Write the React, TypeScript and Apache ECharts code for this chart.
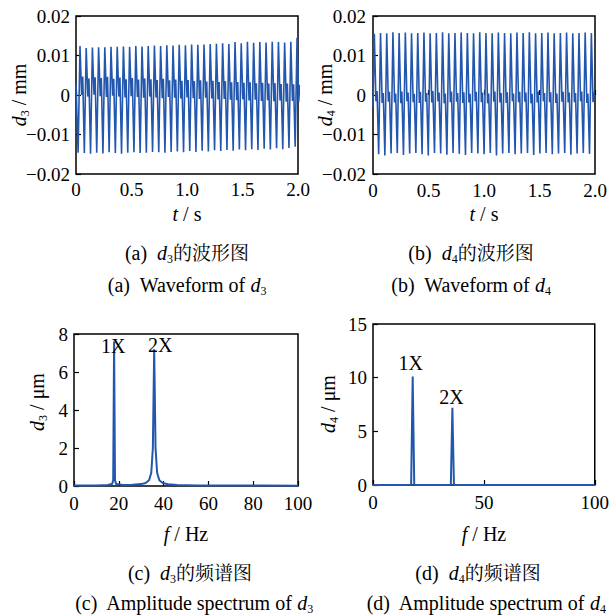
import React, { useEffect, useRef } from "react";
import * as echarts from "echarts";

// ---------- data ----------
const waveFreqHz = 17.9; // rotating frequency (1X)
const waveShape = [-0.3, 0, 0.26, 0.44]; // phase of trough, peak, local min, local max within a period
const d3FirstPeak = 0.036;
const d3Start = 0.003;
const d3Peak = [0.0124, 0.0119, 0.012, 0.0121, 0.0121, 0.0122, 0.0122, 0.0123, 0.0122, 0.0124, 0.0123, 0.0124, 0.0125, 0.0124, 0.0126, 0.0125, 0.0127, 0.0126, 0.0128, 0.0127, 0.0128, 0.0129, 0.013, 0.0131, 0.0129, 0.0134, 0.0131, 0.0135, 0.0132, 0.0134, 0.0133, 0.0135, 0.0134, 0.0133, 0.0135, 0.0145];
const d3Trough = [-0.0146, -0.0147, -0.0149, -0.0146, -0.0148, -0.0145, -0.0147, -0.0149, -0.0146, -0.0145, -0.0147, -0.0146, -0.0144, -0.0145, -0.0146, -0.0144, -0.0143, -0.0145, -0.0142, -0.0144, -0.0141, -0.0143, -0.014, -0.0142, -0.0139, -0.0141, -0.0138, -0.014, -0.0137, -0.0139, -0.0136, -0.0138, -0.0135, -0.0137, -0.0134, -0.0131];
const d3MidLo = [0.0, -0.0004, 0.0001, -0.0003, -0.0005, -0.0002, -0.0004, -0.0006, -0.0003, -0.0005, -0.0007, -0.0004, -0.0006, -0.0008, -0.0005, -0.0007, -0.0009, -0.0006, -0.0008, -0.001, -0.0007, -0.0009, -0.0011, -0.001, -0.0012, -0.0013, -0.0011, -0.0014, -0.0012, -0.0015, -0.0013, -0.0016, -0.0014, -0.0017, -0.0015, -0.0018];
const d3MidHi = [0.0047, 0.0042, 0.0045, 0.0043, 0.0046, 0.0041, 0.0044, 0.004, 0.0043, 0.0039, 0.0042, 0.004, 0.0038, 0.0041, 0.0037, 0.0039, 0.0036, 0.0038, 0.0035, 0.0037, 0.0034, 0.0036, 0.0033, 0.0035, 0.0032, 0.0033, 0.0031, 0.0032, 0.003, 0.0031, 0.0029, 0.003, 0.0028, 0.0029, 0.0027, 0.0026];

const d4FirstPeak = 0.012;
const d4Start = -0.003;
const d4Peak = [0.0155, 0.0157, 0.0156, 0.0159, 0.0157, 0.0158, 0.0156, 0.0157, 0.0158, 0.0156, 0.0157, 0.0159, 0.0156, 0.0157, 0.0158, 0.0157, 0.0156, 0.0159, 0.0157, 0.0156, 0.0158, 0.0157, 0.0156, 0.0158, 0.0157, 0.0159, 0.0156, 0.0157, 0.0158, 0.0156, 0.0157, 0.0158, 0.0156, 0.0157, 0.0158, 0.0157];
const d4Trough = [-0.0147, -0.015, -0.0153, -0.0148, -0.0147, -0.0152, -0.0148, -0.0147, -0.015, -0.0153, -0.0147, -0.0148, -0.0151, -0.0147, -0.0149, -0.0152, -0.0147, -0.0148, -0.015, -0.0147, -0.0153, -0.0148, -0.0147, -0.015, -0.0148, -0.0147, -0.0152, -0.0148, -0.0147, -0.015, -0.0148, -0.0147, -0.0151, -0.0148, -0.0147, -0.0149];
const d4MidLo = [-0.0016, -0.002, -0.0017, -0.0019, -0.0021, -0.0016, -0.0018, -0.002, -0.0017, -0.0019, -0.0016, -0.0021, -0.0018, -0.0017, -0.002, -0.0019, -0.0016, -0.0018, -0.0021, -0.0017, -0.0019, -0.002, -0.0016, -0.0018, -0.0017, -0.0021, -0.0019, -0.0016, -0.0018, -0.002, -0.0017, -0.0019, -0.0018, -0.0016, -0.002, -0.0018];
const d4MidHi = [0.001, 0.0005, 0.0008, 0.0004, 0.0009, 0.0006, 0.0003, 0.0008, 0.0005, 0.001, 0.0006, 0.0004, 0.0009, 0.0005, 0.0007, 0.0003, 0.0008, 0.0006, 0.0004, 0.0009, 0.0005, 0.0007, 0.0004, 0.0008, 0.0006, 0.0003, 0.0009, 0.0005, 0.0007, 0.0004, 0.0008, 0.0006, 0.0005, 0.0009, 0.0004, 0.0007];

const specFreq3 = [0, 5, 10, 15, 17, 17.5, 17.9, 18.3, 18.8, 22, 26, 30, 32, 33.5, 34.5, 35.2, 35.8, 36.4, 37.1, 38.1, 39.6, 42, 46, 55, 70, 85, 100];
const specAmp3 = [0.02, 0.03, 0.03, 0.05, 0.1, 0.3, 7.6, 0.3, 0.1, 0.05, 0.06, 0.1, 0.16, 0.3, 0.7, 2.0, 7.2, 2.0, 0.7, 0.3, 0.16, 0.09, 0.05, 0.03, 0.02, 0.02, 0.01];
const specFreq4 = [0, 17.2, 17.9, 18.6, 35.1, 35.8, 36.5, 100];
const specAmp4 = [0, 0, 10.1, 0, 0, 7.2, 0, 0];
const peakNames = ["1X", "2X"];
const peakFreq = [17.9, 35.8];
const peakAmp3 = [7.6, 7.2];
const peakAmp4 = [10.1, 7.2];

const waveTicksX = { min: 0, max: 2, interval: 0.5 };
const waveTicksY = { min: -0.02, max: 0.02, interval: 0.01 };

// ---------- helpers ----------
function buildWave(peaks: number[], troughs: number[], lo: number[], hi: number[], first: number, start: number) {
  const T = 1 / waveFreqHz;
  const pts: number[][] = [[0, start]];
  for (let k = 0; k < peaks.length; k++) {
    const tp = first + k * T;
    const vals = [troughs[k], peaks[k], lo[k], hi[k]];
    for (let j = 0; j < 4; j++) {
      const t = tp + waveShape[j] * T;
      if (t > 0) pts.push([t, vals[j]]);
    }
  }
  return pts;
}

const SERIF = "'Liberation Serif', 'Times New Roman', serif";
const CJK = "'Liberation Serif', 'Noto Serif CJK SC', 'Noto Sans CJK SC', serif";
const BLUE = "#2357ae";

const rich = {
  i: { fontStyle: "italic", fontFamily: SERIF, fontSize: 20, lineHeight: 24, color: "#000" },
  s: { fontFamily: SERIF, fontSize: 12, lineHeight: 10, verticalAlign: "bottom", color: "#000" },
  n: { fontFamily: SERIF, fontSize: 20, lineHeight: 24, color: "#000" },
  c: { fontFamily: CJK, fontSize: 19, lineHeight: 24, color: "#000" },
};

function txt(x: number, y: number, text: string, rot = 0) {
  return {
    type: "text",
    x,
    y,
    rotation: rot,
    silent: true,
    style: {
      text,
      rich,
      fontFamily: SERIF,
      fontSize: 20,
      fill: "#000",
      align: "center",
      verticalAlign: "middle",
    },
  };
}

const minus = (s: string) => s.replace("-", "\u2212");

function xAxisBase(gridIndex: number, min: number, max: number, interval: number, fmt: any, margin = 6) {
  return {
    type: "value",
    gridIndex,
    min,
    max,
    interval,
    axisLine: { show: false },
    axisTick: { show: true, inside: true, length: 5, lineStyle: { color: "#000", width: 1.2 } },
    axisLabel: { color: "#000", fontSize: 19, fontFamily: SERIF, margin, formatter: fmt },
    splitLine: { show: false },
  };
}
function yAxisBase(gridIndex: number, min: number, max: number, interval: number, fmt: any, margin = 6) {
  return {
    type: "value",
    gridIndex,
    min,
    max,
    interval,
    axisLine: { show: false },
    axisTick: { show: true, inside: true, length: 5, lineStyle: { color: "#000", width: 1.2 } },
    axisLabel: { color: "#000", fontSize: 19, fontFamily: SERIF, margin, formatter: fmt },
    splitLine: { show: false },
  };
}

const fmtWaveY = (v: number) => (Math.abs(v) < 1e-9 ? "0" : minus(v.toFixed(2)));
const fmtWaveX = (v: number) => (v === 0 ? "0" : v.toFixed(1));
const fmtInt = (v: number) => String(v);

function peakMarks(amps: number[], offsets: number[][]) {
  return {
    symbol: "circle",
    symbolSize: 1,
    silent: true,
    itemStyle: { color: "rgba(0,0,0,0)" },
    label: { show: true, position: "inside", color: "#000", fontSize: 20, fontFamily: SERIF, formatter: (p: any) => p.name },
    data: peakNames.map((name, i) => ({ name, coord: [peakFreq[i], amps[i]], label: { offset: offsets[i] } })),
  };
}

export default function App() {
  const ref = useRef<HTMLDivElement>(null);
  useEffect(() => {
    if (!ref.current) return;
    const chart = echarts.init(ref.current, undefined, { renderer: "svg" });
    const grid = (left: number, top: number, width: number, height: number) => ({
      left,
      top,
      width,
      height,
      show: true,
      borderColor: "#000",
      borderWidth: 1.5,
      backgroundColor: "transparent",
    });
    const wave3 = buildWave(d3Peak, d3Trough, d3MidLo, d3MidHi, d3FirstPeak, d3Start);
    const wave4 = buildWave(d4Peak, d4Trough, d4MidLo, d4MidHi, d4FirstPeak, d4Start);
    const spec3 = specFreq3.map((f, i) => [f, specAmp3[i]]);
    const spec4 = specFreq4.map((f, i) => [f, specAmp4[i]]);

    chart.setOption({
      animation: false,
      backgroundColor: "#fff",
      grid: [grid(76, 16, 222, 158), grid(373, 16, 222, 158), grid(74, 334, 224, 152), grid(373, 324, 222, 161)],
      xAxis: [
        xAxisBase(0, waveTicksX.min, waveTicksX.max, waveTicksX.interval, fmtWaveX),
        xAxisBase(1, waveTicksX.min, waveTicksX.max, waveTicksX.interval, fmtWaveX, 7),
        xAxisBase(2, 0, 100, 20, fmtInt, 8),
        xAxisBase(3, 0, 100, 50, fmtInt, 8),
      ],
      yAxis: [
        yAxisBase(0, waveTicksY.min, waveTicksY.max, waveTicksY.interval, fmtWaveY),
        yAxisBase(1, waveTicksY.min, waveTicksY.max, waveTicksY.interval, fmtWaveY, 7),
        yAxisBase(2, 0, 8, 2, fmtInt, 6),
        yAxisBase(3, 0, 15, 5, fmtInt, 6),
      ],
      series: [
        { type: "line", xAxisIndex: 0, yAxisIndex: 0, data: wave3, showSymbol: false, symbol: "none", lineStyle: { color: BLUE, width: 1.6 }, clip: true },
        { type: "line", xAxisIndex: 1, yAxisIndex: 1, data: wave4, showSymbol: false, symbol: "none", lineStyle: { color: BLUE, width: 1.6 }, clip: true },
        {
          type: "line", xAxisIndex: 2, yAxisIndex: 2, data: spec3, showSymbol: false, symbol: "none",
          lineStyle: { color: BLUE, width: 2 }, markPoint: peakMarks(peakAmp3, [[-1, 4], [6, -4]]),
        },
        {
          type: "line", xAxisIndex: 3, yAxisIndex: 3, data: spec4, showSymbol: false, symbol: "none",
          lineStyle: { color: BLUE, width: 2 }, markPoint: peakMarks(peakAmp4, [[-2, -14], [-1, -11]]),
        },
      ],
      graphic: [
        txt(19, 95, "{i|d}{s|3}{n| / mm}", Math.PI / 2),
        txt(325, 95, "{i|d}{s|4}{n| / mm}", Math.PI / 2),
        txt(37, 402, "{i|d}{s|3}{n| / μm}", Math.PI / 2),
        txt(328, 404, "{i|d}{s|4}{n| / μm}", Math.PI / 2),
        txt(187, 214, "{i|t}{n| / s}"),
        txt(484, 214, "{i|t}{n| / s}"),
        txt(186, 534, "{i|f}{n| / Hz}"),
        txt(484, 534, "{i|f}{n| / Hz}"),
        txt(187, 253, "{n|(a)  }{i|d}{s|3}{c|的波形图}"),
        txt(471, 253, "{n|(b)  }{i|d}{s|4}{c|的波形图}"),
        txt(187, 285, "{n|(a)  Waveform of }{i|d}{s|3}"),
        txt(471, 285, "{n|(b)  Waveform of }{i|d}{s|4}"),
        txt(190, 573, "{n|(c)  }{i|d}{s|3}{c|的频谱图}"),
        txt(478, 573, "{n|(d)  }{i|d}{s|4}{c|的频谱图}"),
        txt(194, 603, "{n|(c)  Amplitude spectrum of }{i|d}{s|3}"),
        txt(486, 603, "{n|(d)  Amplitude spectrum of }{i|d}{s|4}"),
      ],
    });
    return () => chart.dispose();
  }, []);
  return <div ref={ref} style={{ position: "fixed", left: 0, top: 0, width: 612, height: 616 }} />;
}
